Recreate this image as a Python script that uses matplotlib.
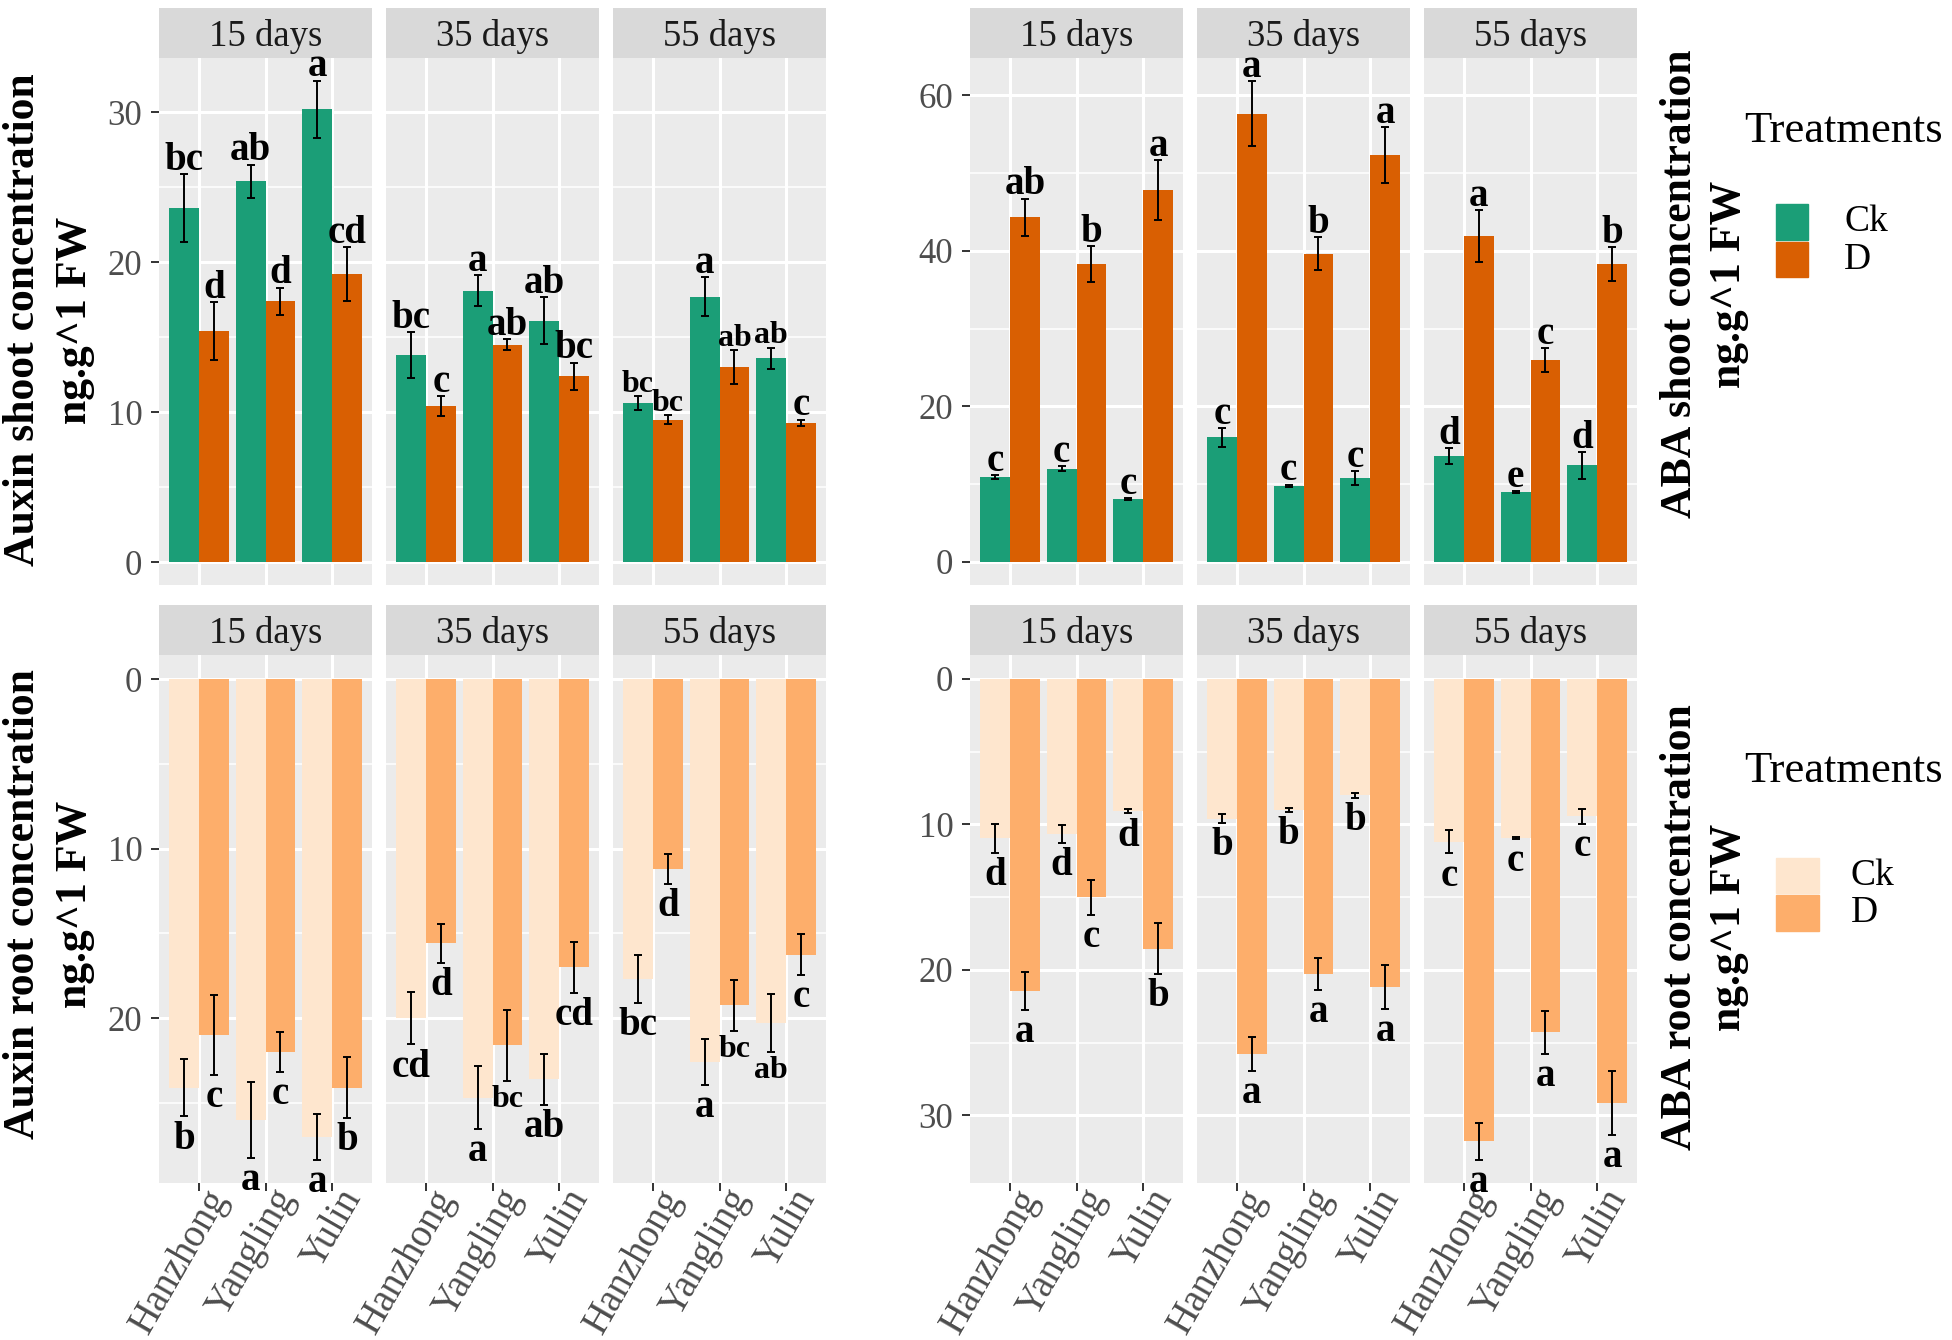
import numpy as np
import matplotlib.pyplot as plt
from matplotlib.patches import Rectangle
from matplotlib.transforms import ScaledTranslation

plt.rcParams['font.family'] = ['Liberation Serif', 'DejaVu Serif']

W, H = 1952, 1340

sites = ["Hanzhong", "Yangling", "Yulin"]
days = ["15 days", "35 days", "55 days"]
treatments = ["Ck", "D"]

# rows = days (15, 35, 55), columns = sites
auxin_shoot_ck = [[23.6, 25.4, 30.2], [13.8, 18.1, 16.1], [10.6, 17.7, 13.6]]
auxin_shoot_ck_sd = [[2.25, 1.1, 1.9], [1.55, 1.05, 1.55], [0.45, 1.3, 0.7]]
auxin_shoot_d = [[15.4, 17.4, 19.2], [10.4, 14.5, 12.4], [9.5, 13.0, 9.3]]
auxin_shoot_d_sd = [[1.95, 0.9, 1.8], [0.65, 0.35, 0.9], [0.3, 1.15, 0.2]]
auxin_shoot_ck_lab = [["bc", "ab", "a"], ["bc", "a", "ab"], ["bc", "a", "ab"]]
auxin_shoot_d_lab = [["d", "d", "cd"], ["c", "ab", "bc"], ["bc", "ab", "c"]]

aba_shoot_ck = [[10.9, 12.0, 8.1], [16.0, 9.8, 10.8], [13.6, 9.0, 12.4]]
aba_shoot_ck_sd = [[0.3, 0.35, 0.15], [1.2, 0.15, 0.9], [1.0, 0.15, 1.7]]
aba_shoot_d = [[44.3, 38.3, 47.8], [57.6, 39.6, 52.3], [41.9, 25.9, 38.3]]
aba_shoot_d_sd = [[2.4, 2.3, 3.8], [4.15, 2.1, 3.55], [3.35, 1.55, 2.15]]
aba_shoot_ck_lab = [["c", "c", "c"], ["c", "c", "c"], ["d", "e", "d"]]
aba_shoot_d_lab = [["ab", "b", "a"], ["a", "b", "a"], ["a", "c", "b"]]

auxin_root_ck = [[24.1, 26.0, 27.0], [20.0, 24.7, 23.6], [17.7, 22.6, 20.3]]
auxin_root_ck_sd = [[1.7, 2.25, 1.35], [1.55, 1.85, 1.5], [1.4, 1.35, 1.7]]
auxin_root_d = [[21.0, 22.0, 24.1], [15.6, 21.6, 17.0], [11.2, 19.25, 16.25]]
auxin_root_d_sd = [[2.35, 1.2, 1.8], [1.15, 2.1, 1.5], [0.9, 1.5, 1.2]]
auxin_root_ck_lab = [["b", "a", "a"], ["cd", "a", "ab"], ["bc", "a", "ab"]]
auxin_root_d_lab = [["c", "c", "b"], ["d", "bc", "cd"], ["d", "bc", "c"]]

aba_root_ck = [[10.95, 10.65, 9.1], [9.6, 9.0, 8.0], [11.2, 10.95, 9.45]]
aba_root_ck_sd = [[1.0, 0.6, 0.14], [0.3, 0.12, 0.15], [0.8, 0.05, 0.5]]
aba_root_d = [[21.45, 15.0, 18.55], [25.8, 20.3, 21.2], [31.8, 24.3, 29.15]]
aba_root_d_sd = [[1.3, 1.2, 1.75], [1.15, 1.1, 1.5], [1.3, 1.5, 2.2]]
aba_root_ck_lab = [["d", "d", "d"], ["b", "b", "b"], ["c", "c", "c"]]
aba_root_d_lab = [["a", "c", "b"], ["a", "a", "a"], ["a", "a", "a"]]

# labels drawn in a smaller size: (panel, day, site, treatment)
small_labels = {("auxin_shoot", 2, 0, 0), ("auxin_shoot", 2, 0, 1),
                ("auxin_shoot", 2, 1, 1), ("auxin_shoot", 2, 2, 0),
                ("auxin_root", 1, 1, 1), ("auxin_root", 2, 1, 1),
                ("auxin_root", 2, 2, 0)}

shoot_colors = ["#1B9E77", "#D95F02"]
root_colors = ["#FEE6CE", "#FDAE6B"]

fig = plt.figure(figsize=(W / 100, H / 100), dpi=100)


def px_axes(x0, y0, x1, y1):
    return fig.add_axes([x0 / W, 1 - y1 / H, (x1 - x0) / W, (y1 - y0) / H])


def draw_group(name, xs, y0, y1, ck, ck_sd, dd, d_sd, ck_lab, d_lab,
               colors, ylim, majors, minors, bottom):
    pw = 213
    # strips first so that panel text can sit on top of them
    for j, x0 in enumerate(xs):
        st = px_axes(x0, y0 - 50.5, x0 + pw, y0)
        st.set_facecolor("#D9D9D9")
        st.set_xticks([]); st.set_yticks([])
        for s in st.spines.values():
            s.set_visible(False)
        st.text(0.5, 0.5, days[j], ha="center", va="center_baseline",
                fontsize=26.5, color="#1A1A1A", transform=st.transAxes)
    pos = np.arange(1, 4)
    reverse = ylim[0] > ylim[1]
    for j, x0 in enumerate(xs):
        ax = px_axes(x0, y0, x0 + pw, y1)
        ax.set_facecolor("#EBEBEB")
        ax.set_xlim(0.4, 3.6)
        ax.set_ylim(*ylim)
        ax.set_axisbelow(True)
        ax.set_yticks(majors)
        ax.set_yticks(minors, minor=True)
        ax.set_xticks(pos)
        ax.grid(which="major", color="white", lw=2.2)
        ax.grid(which="minor", axis="y", color="white", lw=1.1)
        for s in ax.spines.values():
            s.set_visible(False)
        series = [(ck, ck_sd, ck_lab), (dd, d_sd, d_lab)]
        for t, (vals, sds, labs) in enumerate(series):
            off = -0.225 if t == 0 else 0.225
            ax.bar(pos + off, vals[j], width=0.45, color=colors[t], zorder=2)
            ax.errorbar(pos + off, vals[j], yerr=sds[j], fmt="none",
                        ecolor="black", elinewidth=1.4, capsize=3,
                        capthick=1.4, zorder=3)
            for k in range(3):
                y = vals[j][k] + sds[j][k]
                fs = 23 if (name, j, k, t) in small_labels else 28
                if reverse:
                    ax.annotate(labs[j][k], (pos[k] + off, y), xytext=(0, -3),
                                textcoords="offset points", ha="center",
                                va="top", fontsize=fs, fontweight="bold",
                                annotation_clip=False, zorder=5)
                else:
                    ax.annotate(labs[j][k], (pos[k] + off, y), xytext=(0, 3),
                                textcoords="offset points", ha="center",
                                va="baseline", fontsize=fs, fontweight="bold",
                                annotation_clip=False, zorder=5)
        ax.tick_params(axis="y", which="minor", length=0)
        if j == 0:
            ax.tick_params(axis="y", which="major", length=6, width=1.4,
                           color="#333333", labelcolor="#4D4D4D",
                           labelsize=25, pad=6)
        else:
            ax.tick_params(axis="y", which="major", length=0, labelleft=False)
        if bottom:
            ax.tick_params(axis="x", length=6, width=1.4, color="#333333",
                           labelcolor="#4D4D4D", labelsize=28, pad=-6)
            ax.set_xticklabels(sites, rotation=60, ha="right", va="top",
                               rotation_mode="anchor")
            shift = ScaledTranslation(5 / 100, 0, fig.dpi_scale_trans)
            for lab in ax.get_xticklabels():
                lab.set_transform(lab.get_transform() + shift)
        else:
            ax.tick_params(axis="x", length=0, labelbottom=False)


left_x = [159, 386, 613]
right_x = [970, 1197, 1424]

draw_group("auxin_shoot", left_x, 58, 585, auxin_shoot_ck, auxin_shoot_ck_sd,
           auxin_shoot_d, auxin_shoot_d_sd, auxin_shoot_ck_lab, auxin_shoot_d_lab,
           shoot_colors, (-1.53, 33.6), [0, 10, 20, 30], [5, 15, 25], False)
draw_group("aba_shoot", right_x, 58, 585, aba_shoot_ck, aba_shoot_ck_sd,
           aba_shoot_d, aba_shoot_d_sd, aba_shoot_ck_lab, aba_shoot_d_lab,
           shoot_colors, (-2.96, 64.76), [0, 20, 40, 60], [10, 30, 50], False)
draw_group("auxin_root", left_x, 655, 1183, auxin_root_ck, auxin_root_ck_sd,
           auxin_root_d, auxin_root_d_sd, auxin_root_ck_lab, auxin_root_d_lab,
           root_colors, (29.73, -1.42), [0, 10, 20], [5, 15, 25], True)
draw_group("aba_root", right_x, 655, 1183, aba_root_ck, aba_root_ck_sd,
           aba_root_d, aba_root_d_sd, aba_root_ck_lab, aba_root_d_lab,
           root_colors, (34.66, -1.65), [0, 10, 20, 30], [5, 15, 25], True)


def ftext(x, y, s, **kw):
    fig.text(x / W, 1 - y / H, s, **kw)


# axis titles
title_kw = dict(rotation=90, ha="center", va="center", fontsize=31.5,
                fontweight="bold")
ftext(23, 320, "Auxin shoot concentration", **title_kw)
ftext(75, 320, "ng.g^1 FW", **title_kw)
ftext(23, 904, "Auxin root concentration", **title_kw)
ftext(75, 904, "ng.g^1 FW", **title_kw)
ftext(1680, 284, "ABA shoot concentration", **title_kw)
ftext(1729, 284, "ng.g^1 FW", **title_kw)
ftext(1680, 927, "ABA root concentration", **title_kw)
ftext(1729, 927, "ng.g^1 FW", **title_kw)

# legends
for ty, keys, kw, lx, cols in [
        (142, [(204, 240), (242, 277)], 32, 1844, shoot_colors),
        (782, [(858, 893), (895, 931)], 43, 1851, root_colors)]:
    ftext(1744, ty, "Treatments", ha="left", va="baseline", fontsize=32)
    for (ya, yb), lab, c in zip(keys, treatments, cols):
        fig.add_artist(Rectangle((1776 / W, 1 - yb / H), kw / W, (yb - ya) / H,
                                 transform=fig.transFigure, color=c))
        ftext(lx, (ya + yb) / 2, lab, ha="left", va="center", fontsize=27)

fig.savefig("out.png", dpi=100)
